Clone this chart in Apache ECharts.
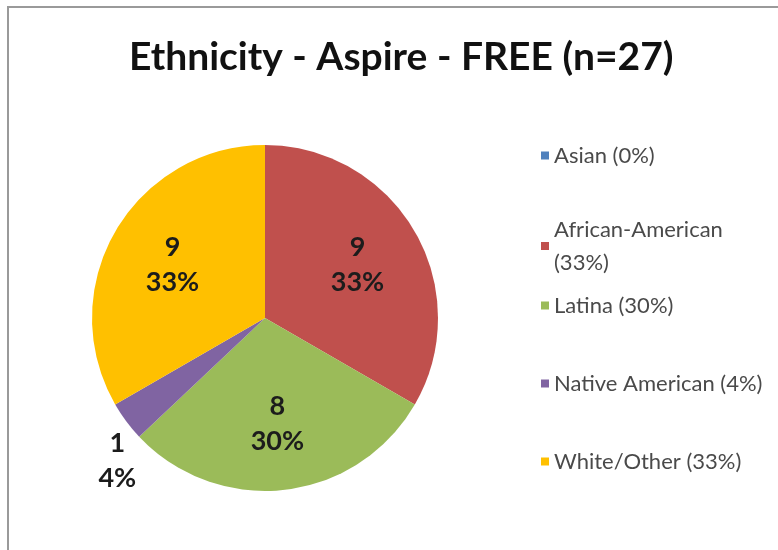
<!DOCTYPE html>
<html>
<head>
<meta charset="utf-8">
<script src="https://cdn.jsdelivr.net/npm/echarts@6/dist/echarts.min.js"></script>
<style>
  html, body { margin: 0; padding: 0; background: #ffffff; }
  #chart { width: 778px; height: 550px; }
</style>
</head>
<body>
<div id="chart"></div>
<script>
// Survey counts by ethnicity (n = 27)
const categories = ['Asian', 'African-American', 'Latina', 'Native American', 'White/Other'];
const counts = [0, 9, 8, 1, 9];
const sliceColors = ['#4F81BD', '#C0504D', '#9BBB59', '#8064A2', '#FFC000'];
const titleText = 'Ethnicity - Aspire - FREE (n=27)';

const total = counts.reduce((a, b) => a + b, 0);
const FONT = 'Lato, "Open Sans", sans-serif';

const pieCenter = [265, 318];
const pieRadius = 173;

const sliceData = categories.map((name, i) => ({
  name,
  value: counts[i],
  itemStyle: { color: sliceColors[i] }
}));

// Transparent copy of the slices, a bit larger, used only to place the
// value / percent labels further out than the default inside position.
const labelData = categories.map((name, i) => {
  const item = { name, value: counts[i] };
  if (counts[i] === 0) {
    item.label = { show: false };
  } else if (name === 'Native American') {
    item.label = { offset: [-62, 79] };
  }
  return item;
});

const legendText = name => {
  const v = counts[categories.indexOf(name)];
  return name + ' (' + Math.round(v / total * 100) + '%)';
};

const legendBase = {
  orient: 'vertical',
  left: 536,
  icon: 'rect',
  itemWidth: 8,
  itemHeight: 8,
  selectedMode: false,
  formatter: legendText,
  textStyle: {
    fontFamily: FONT,
    fontSize: 22,
    color: '#4a4a4a',
    lineHeight: 33
  }
};

const chart = echarts.init(document.getElementById('chart'), null, { renderer: 'canvas' });
chart.setOption({
  backgroundColor: '#ffffff',
  animation: false,
  title: {
    text: titleText,
    left: 124,
    top: 33,
    textStyle: {
      fontFamily: FONT,
      fontWeight: 'bold',
      fontSize: 39,
      color: '#111111'
    }
  },
  legend: [
    Object.assign({}, legendBase, {
      top: 134,
      itemGap: 41,
      data: categories.slice(0, 2),
      textStyle: Object.assign({}, legendBase.textStyle, { width: 195, overflow: 'break' })
    }),
    Object.assign({}, legendBase, {
      top: 284,
      itemGap: 45,
      data: categories.slice(2)
    })
  ],
  graphic: [{
    type: 'rect',
    shape: { x: 8, y: 7, width: 820, height: 600 },
    style: { fill: 'none', stroke: '#9a9a9a', lineWidth: 2 },
    silent: true,
    z: 0
  }],
  series: [
    {
      name: 'Ethnicity',
      type: 'pie',
      center: pieCenter,
      radius: pieRadius,
      startAngle: 90,
      clockwise: true,
      silent: true,
      label: { show: false },
      labelLine: { show: false },
      itemStyle: { borderWidth: 0 },
      data: sliceData
    },
    {
      name: 'Labels',
      type: 'pie',
      center: pieCenter,
      radius: [0, pieRadius * 1.2],
      startAngle: 90,
      clockwise: true,
      silent: true,
      percentPrecision: 0,
      itemStyle: { color: 'rgba(0,0,0,0)', borderWidth: 0 },
      labelLine: { show: false },
      label: {
        show: true,
        position: 'inside',
        formatter: '{c}\n{d}%',
        fontFamily: FONT,
        fontWeight: 'bold',
        fontSize: 27,
        lineHeight: 35,
        color: '#1c1c1c',
        align: 'center'
      },
      data: labelData,
      z: 3
    }
  ]
});
</script>
</body>
</html>
